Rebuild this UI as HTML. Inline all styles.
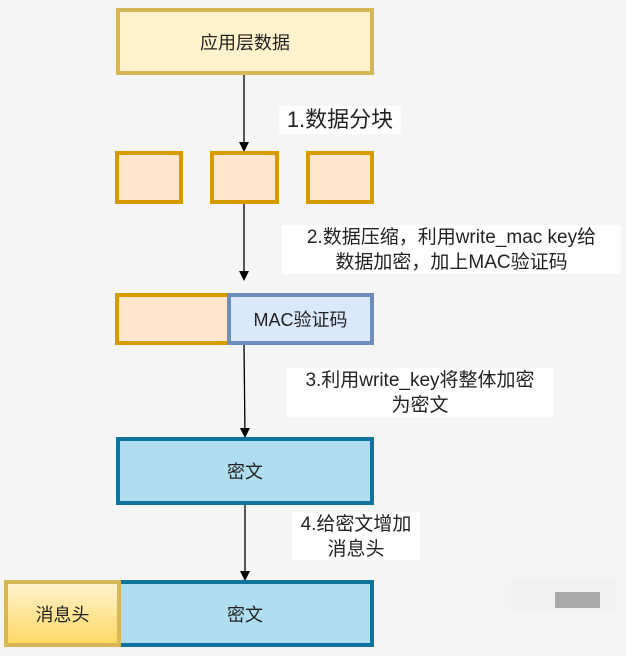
<!DOCTYPE html>
<html><head><meta charset="utf-8"><style>
body{margin:0;width:626px;height:656px;background:#f5f5f5;position:relative;overflow:hidden;font-family:"Liberation Sans","Noto Sans CJK SC",sans-serif;color:#222}
.b{position:absolute;box-sizing:border-box;border:4px solid;display:flex;align-items:center;justify-content:center;font-size:18px}
.y{background:#fff2cc;border-color:#d6b656}
.o{background:#ffe6cc;border-color:#d79b00}
.bl{background:#dae8fc;border-color:#6c8ebf}
.c{background:#b1ddf0;border-color:#10739e}
.l{position:absolute;background:#fff;text-align:center;font-size:19px;line-height:25px}
</style></head><body>
<svg width="626" height="656" style="position:absolute;left:0;top:0">
<defs><marker id="a" markerWidth="10" markerHeight="10" refX="8" refY="5" orient="auto" markerUnits="userSpaceOnUse"><path d="M0,0 L10,5 L0,10 Z" fill="#000"/></marker></defs>
<g stroke="#000" stroke-width="1.3">
<line x1="244" y1="74" x2="244" y2="150" marker-end="url(#a)"/>
<line x1="244" y1="203" x2="244" y2="279" marker-end="url(#a)"/>
<line x1="244" y1="344" x2="245" y2="436" marker-end="url(#a)"/>
<line x1="245" y1="504" x2="245" y2="579" marker-end="url(#a)"/>
</g></svg>
<div class="b y" style="left:116px;top:8px;width:258px;height:67px">应用层数据</div>
<div class="l" style="left:279px;top:106px;width:122px;height:28px;font-size:22px;line-height:28px">1.数据分块</div>
<div class="b o" style="left:115px;top:151px;width:68px;height:53px"></div>
<div class="b o" style="left:210px;top:151px;width:69px;height:53px"></div>
<div class="b o" style="left:306px;top:151px;width:68px;height:53px"></div>
<div class="l" style="left:282px;top:225px;width:339px;height:49px">2.数据压缩，利用write_mac key给<br>数据加密，加上MAC验证码</div>
<div class="b o" style="left:115px;top:293px;width:117px;height:52px"></div>
<div class="b bl" style="left:227px;top:293px;width:147px;height:52px">MAC验证码</div>
<div class="l" style="left:286px;top:368px;width:268px;height:49px">3.利用write_key将整体加密<br>为密文</div>
<div class="b c" style="left:116px;top:437px;width:258px;height:68px">密文</div>
<div class="l" style="left:292px;top:512px;width:128px;height:48px">4.给密文增加<br>消息头</div>
<div class="b c" style="left:116px;top:580px;width:258px;height:67px">密文</div>
<div class="b" style="left:4px;top:580px;width:117px;height:67px;border-color:#d6b656;background:linear-gradient(#fff2cc,#ffd966)">消息头</div>
<div style="position:absolute;left:511px;top:578px;width:105px;height:34px;background:#eee;opacity:.5"></div>
<div style="position:absolute;left:555px;top:592px;width:45px;height:16px;background:#aaa"></div>
</body></html>
